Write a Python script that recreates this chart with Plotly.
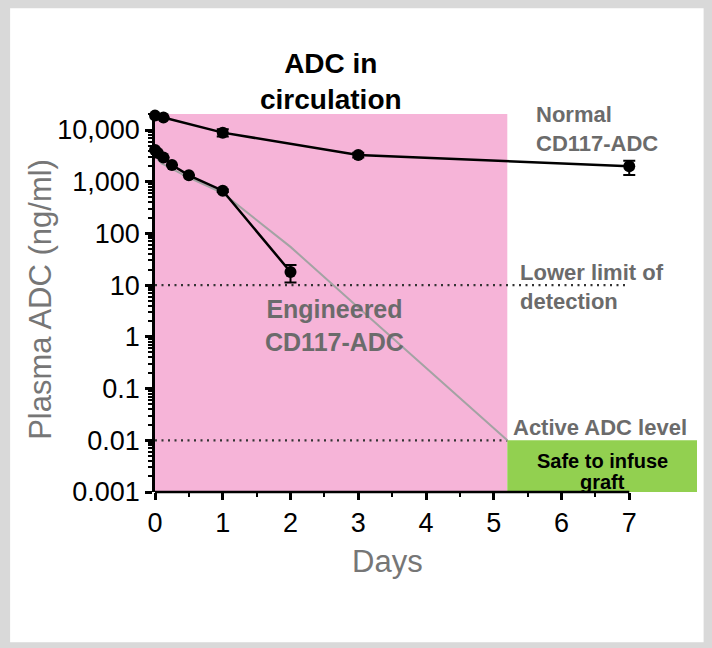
import numpy as np
import plotly.graph_objects as go

# ---------------- data ----------------
days_normal = [0.0, 0.125, 1, 3, 7]
adc_normal = [19000, 17500, 8900, 3300, 2000]
err_normal_plus = [0, 0, 1400, 350, 550]
err_normal_minus = [0, 0, 1400, 350, 650]

days_eng = [0.0, 0.042, 0.125, 0.25, 0.5, 1, 2]
adc_eng = [4100, 3600, 2950, 2100, 1330, 670, 18]
err_eng_plus = [0, 0, 0, 0, 0, 40, 6.5]
err_eng_minus = [0, 0, 0, 0, 0, 40, 6.8]

days_fit = [0, 0.05, 0.1, 0.25, 0.5, 1, 2, 3, 4, 5.2]
adc_fit = [3800, 2600, 2250, 1800, 1200, 600, 55, 3.7, 0.25, 0.01]

x_tick_vals = [0, 1, 2, 3, 4, 5, 6, 7]
x_tick_text = ["0", "1", "2", "3", "4", "5", "6", "7"]
y_tick_vals = [0.001, 0.01, 0.1, 1, 10, 100, 1000, 10000]
y_tick_text = ["0.001", "0.01", "0.1", "1", "10", "100", "1,000", "10,000"]

lower_limit_value = 10
lower_limit_end = 6.95
active_level_value = 0.01
circulation_end = 5.2
x_max = 8.0
y_log_range = [-3, 4.31]

FONT = "Liberation Sans, Arial, Helvetica, sans-serif"
GREY_TXT = "#6b6b6b"
PINK = "#f6b4d8"
GREEN = "#92d050"

fig = go.Figure()

# fitted (grey) curve
fig.add_trace(go.Scatter(x=days_fit, y=adc_fit, mode="lines",
                         line=dict(color="#a3a3a3", width=2), cliponaxis=False,
                         showlegend=False, hoverinfo="skip"))
# engineered
fig.add_trace(go.Scatter(x=days_eng, y=adc_eng, mode="lines+markers",
                         line=dict(color="black", width=2.5),
                         marker=dict(color="black", size=12),
                         error_y=dict(type="data", symmetric=False, array=err_eng_plus,
                                      arrayminus=err_eng_minus, color="black",
                                      thickness=2, width=6),
                         cliponaxis=False, showlegend=False))
# normal
fig.add_trace(go.Scatter(x=days_normal, y=adc_normal, mode="lines+markers",
                         line=dict(color="black", width=2.5),
                         marker=dict(color="black", size=12),
                         error_y=dict(type="data", symmetric=False, array=err_normal_plus,
                                      arrayminus=err_normal_minus, color="black",
                                      thickness=2, width=6),
                         cliponaxis=False, showlegend=False))

# plot geometry in pixels
W, H = 712, 648
L, R, T, B = 155, 712 - 697.4, 114, 648 - 492.5
pw = W - L - R
ph = H - T - B


def px(xp):
    return (xp - L) / pw


def py(yp):
    return (H - B - yp) / ph


shapes = [
    # white frame inside grey border
    dict(type="rect", xref="paper", yref="paper", x0=px(10), x1=px(704),
         y0=py(643), y1=py(8), fillcolor="white", line=dict(width=0), layer="below"),
    # ADC in circulation region
    dict(type="rect", xref="x", yref="paper", x0=0, x1=circulation_end, y0=0, y1=1,
         fillcolor=PINK, line=dict(width=0), layer="below"),
    # safe region
    dict(type="rect", xref="x", yref="y", x0=circulation_end, x1=x_max,
         y0=10 ** y_log_range[0], y1=active_level_value,
         fillcolor=GREEN, line=dict(width=0), layer="below"),
    # dotted reference lines
    dict(type="line", xref="x", yref="y", x0=0, x1=lower_limit_end,
         y0=lower_limit_value, y1=lower_limit_value,
         line=dict(color="#333333", width=2.2, dash="2px,4.5px"), layer="below"),
    dict(type="line", xref="x", yref="y", x0=0, x1=circulation_end,
         y0=active_level_value, y1=active_level_value,
         line=dict(color="#333333", width=2.2, dash="2px,4.5px"), layer="below"),
    # x axis line (0..7 only)
    dict(type="line", xref="x", yref="paper", x0=-0.02, x1=7, y0=0, y1=0,
         line=dict(color="black", width=2.5), layer="above"),
]

annotations = [
    dict(text="<b>ADC in<br>circulation</b>", xref="paper", yref="paper",
         x=px(331), y=py(81), xanchor="center", yanchor="middle", showarrow=False,
         font=dict(family=FONT, size=28, color="black")),
    dict(text="<b>Normal<br>CD117-ADC</b>", xref="paper", yref="paper",
         x=px(534), y=py(129), xanchor="left", yanchor="middle", showarrow=False,
         align="left", font=dict(family=FONT, size=22, color=GREY_TXT)),
    dict(text="<b>Lower limit of<br>detection</b>", xref="paper", yref="paper",
         x=px(518), y=py(287), xanchor="left", yanchor="middle", showarrow=False,
         align="left", font=dict(family=FONT, size=22, color=GREY_TXT)),
    dict(text="<b>Engineered<br>CD117-ADC</b>", xref="paper", yref="paper",
         x=px(335), y=py(326), xanchor="center", yanchor="middle", showarrow=False,
         align="center", font=dict(family=FONT, size=25, color=GREY_TXT)),
    dict(text="<b>Active ADC level</b>", xref="paper", yref="paper",
         x=px(511), y=py(428), xanchor="left", yanchor="middle", showarrow=False,
         font=dict(family=FONT, size=22, color=GREY_TXT)),
    dict(text="<b>Safe to infuse</b>", xref="paper", yref="paper",
         x=px(603), y=py(461), xanchor="center", yanchor="middle", showarrow=False,
         font=dict(family=FONT, size=20, color="black")),
    dict(text="<b>graft</b>", xref="paper", yref="paper",
         x=px(603), y=py(482), xanchor="center", yanchor="middle", showarrow=False,
         font=dict(family=FONT, size=20, color="black")),
    dict(text="Plasma ADC (ng/ml)", xref="paper", yref="paper",
         x=px(41), y=py(300), xanchor="center", yanchor="middle", showarrow=False,
         textangle=-90, font=dict(family=FONT, size=31, color="#767676")),
    dict(text="Days", xref="paper", yref="paper",
         x=px(388), y=py(562), xanchor="center", yanchor="middle", showarrow=False,
         font=dict(family=FONT, size=31, color="#767676")),
]

minor_x = [v + 0.5 for v in x_tick_vals[:-1]]
minor_y = [m * 10 ** e for e in range(-3, 5) for m in range(2, 10) if m * 10 ** e < 10 ** y_log_range[1]]

fig.update_layout(
    width=W, height=H,
    margin=dict(l=L, r=R, t=T, b=B, pad=0),
    paper_bgcolor="#d9d9d9",
    plot_bgcolor="rgba(0,0,0,0)",
    shapes=shapes,
    annotations=annotations,
    showlegend=False,
    font=dict(family=FONT, color="black"),
    xaxis=dict(range=[0, x_max], showgrid=False, zeroline=False, showline=False,
               tickmode="array", tickvals=x_tick_vals, ticktext=x_tick_text,
               ticks="outside", ticklen=7, tickwidth=2.5, tickcolor="black",
               tickfont=dict(family=FONT, size=27, color="black"),
               minor=dict(tickmode="array", tickvals=minor_x, ticks="outside",
                          ticklen=4, tickwidth=2, tickcolor="black", showgrid=False),
               fixedrange=True),
    yaxis=dict(type="log", range=y_log_range, showgrid=False, zeroline=False,
               showline=True, linewidth=2.5, linecolor="black",
               tickmode="array", tickvals=y_tick_vals, ticktext=y_tick_text,
               ticks="outside", ticklen=7, tickwidth=2.5, tickcolor="black",
               tickfont=dict(family=FONT, size=27, color="black"),
               minor=dict(tickmode="array", tickvals=minor_y, ticks="outside",
                          ticklen=4, tickwidth=1.5, tickcolor="black", showgrid=False),
               fixedrange=True),
)

fig.write_html("out.html")
